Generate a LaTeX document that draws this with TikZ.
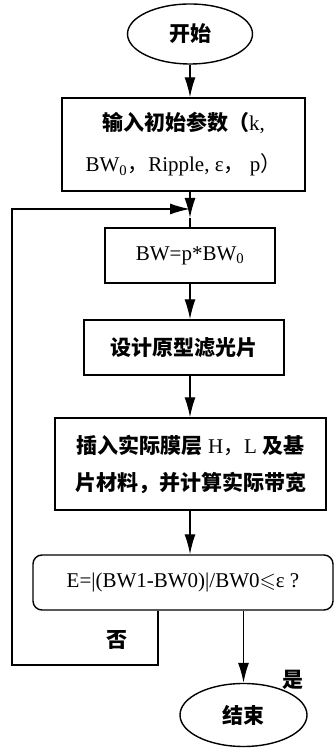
\documentclass[tikz,border=0pt]{standalone}
\usepackage{amssymb}
\usepackage{fontspec}
\setmainfont{Liberation Serif}
\newfontfamily\cjk{Noto Sans CJK SC}
\usetikzlibrary{arrows.meta,shapes.geometric}
\begin{document}
\begin{tikzpicture}[x=1pt,y=1pt,
  line width=1.4pt,
  txt/.style={font=\fontsize{21}{24}\selectfont, inner sep=0pt},
  box/.style n args={2}{draw, txt, minimum width=#1, minimum height=#2, align=center},
  term/.style={draw, ellipse, txt, minimum width=125, minimum height=60},
  arr/.style={-{Latex[length=20pt,width=11pt]}}]
\useasboundingbox (0,0) rectangle (335,749);

\node[term] (start) at (190,715) {\cjk\bfseries 开始};
\node[box={243}{93}, font=\fontsize{21}{41}\selectfont] (in) at (183.5,604.5)
  {{\cjk\bfseries 输入初始参数（}k,\\BW\textsubscript{0}{\cjk ，}Ripple, ε{\cjk ，} p{\cjk ）}};
\node[box={170}{55}] (bw) at (190,493.5) {BW=p*BW\textsubscript{0}};
\node[box={200}{55}] (des) at (184,401.5) {\cjk\bfseries 设计原型滤光片};
\node[box={271}{92}, font=\fontsize{21}{37}\selectfont] (ins) at (190.5,285)
  {{\cjk\bfseries 插入实际膜层} H{\cjk ，}L {\cjk\bfseries 及基}\\{\cjk\bfseries 片材料，并计算实际带宽}};
\node[box={300}{55}, rounded corners=9pt] (dec) at (183,166.5) {E=|(BW1-BW0)|/BW0$\leqslant$ε ?};
\node[term, minimum width=127, minimum height=63] (end) at (243.5,34) {\cjk\bfseries 结束};

\coordinate (m) at (190,540);
\coordinate (m2) at (190,531);
\coordinate (nb) at (158,84);
\coordinate (nl) at (12,84);

\draw[arr] (start.south) -- (start.south |- in.north);
\draw[arr] (in.south -| m) -- (m2);
\draw (m2) -- (m |- bw.north);
\draw[arr] (bw.south -| m) -- (m |- des.north);
\draw[arr] (des.south -| m) -- (m |- ins.north);
\draw[arr] (ins.south -| m) -- (m |- dec.north);
\draw[arr] (dec.south -| end) -- (end.north);
\draw[arr] (dec.south -| nb) -- (nb) -- (nl) -- (nl |- m) -- (m);

\node[txt] (no) at (117,109) {\cjk\bfseries 否};
\node[txt] (yes) at (293,69) {\cjk\bfseries 是};
\end{tikzpicture}
\end{document}
